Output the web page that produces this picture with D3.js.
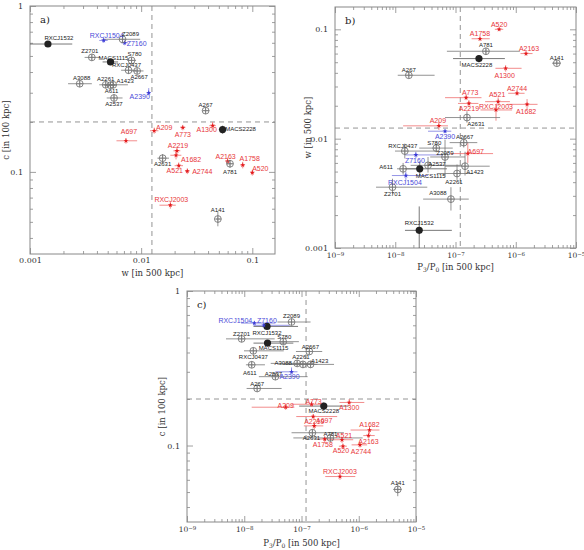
<!DOCTYPE html>
<html>
<head>
<meta charset="utf-8">
<script src="https://cdn.jsdelivr.net/npm/d3@7"></script>
<style>
  body { margin: 0; background: #fff; }
  svg { display: block; }
</style>
</head>
<body>
<svg width="584" height="550"></svg>
<script>
// cluster names and their class
const names = ['RXCJ1532','MACS1115','MACS2228','RXCJ1504','Z7160','A2390',
  'A697','A209','A773','A1300','A2219','A1682','A521','A2744','A2163','A1758','A520','RXCJ2003',
  'Z2089','Z2701','S780','RXCJ0437','A2667','A3088','A2261','A1423','A611','A2537','A267','A2631','A781','A141'];
const groups = ['filled','filled','filled','blue','blue','blue',
  'red','red','red','red','red','red','red','red','red','red','red','red',
  'open','open','open','open','open','open','open','open','open','open','open','open','open','open'];

// c [in 100 kpc]
const cVal = [0.59,0.46,0.18,0.62,0.60,0.30,
  0.154,0.177,0.185,0.19,0.134,0.126,0.109,0.101,0.116,0.11,0.099,0.063,
  0.63,0.49,0.47,0.41,0.406,0.34,0.335,0.335,0.333,0.279,0.234,0.121,0.112,0.052];
const cErr = [[0.57,0.61],[0.44,0.48],[0.17,0.19],[0.6,0.64],[0.58,0.62],[0.29,0.32],
  [0.148,0.16],[0.17,0.185],[0.178,0.192],[0.182,0.2],[0.127,0.142],[0.119,0.134],[0.104,0.114],[0.097,0.105],[0.111,0.122],[0.105,0.115],[0.095,0.103],[0.06,0.066],
  [0.6,0.66],[0.47,0.51],[0.45,0.49],[0.39,0.43],[0.39,0.42],[0.325,0.355],[0.32,0.35],[0.32,0.35],[0.32,0.35],[0.267,0.292],[0.224,0.245],[0.114,0.128],[0.106,0.118],[0.047,0.058]];

// w [in 500 kpc]
const wVal = [0.00145,0.0053,0.054,0.0046,0.0071,0.0117,
  0.0073,0.0131,0.0237,0.044,0.021,0.0206,0.0218,0.026,0.06,0.082,0.1,0.0183,
  0.0068,0.0036,0.0082,0.0077,0.0092,0.0028,0.0048,0.0056,0.0053,0.0057,0.038,0.0156,0.063,0.049];
const wErr = [[0.0009,0.0024],[0.0045,0.0062],[0.05,0.058],[0.0042,0.005],[0.0066,0.0076],[0.0112,0.0122],
  [0.006,0.0092],[0.012,0.0143],[0.0225,0.025],[0.041,0.047],[0.0195,0.0225],[0.0183,0.023],[0.02,0.0238],[0.0248,0.0272],[0.057,0.063],[0.078,0.086],[0.096,0.104],[0.0146,0.0205],
  [0.0045,0.0098],[0.0031,0.0043],[0.0075,0.009],[0.0066,0.009],[0.0083,0.0105],[0.0022,0.0036],[0.0042,0.0058],[0.0046,0.0076],[0.0047,0.006],[0.0049,0.0068],[0.036,0.041],[0.014,0.0178],[0.059,0.067],[0.047,0.052]];

// P3/P0 [in 500 kpc]
const pVal = [2.5e-8,2.55e-8,2.45e-7,1.5e-8,2.2e-8,6.7e-8,
  1.6e-7,5.3e-8,1.5e-7,6.8e-7,1.67e-7,1.54e-6,5.1e-7,1.05e-6,1.48e-6,2.55e-7,5.3e-7,4.7e-7,
  6.7e-8,9e-9,4.8e-8,1.44e-8,1.37e-7,8.4e-8,1.06e-7,1.44e-7,1.35e-8,3.5e-8,1.68e-8,1.55e-7,3.2e-7,4.8e-6];
const pErr = [[1.45e-8,8.7e-8],[1.45e-8,7.2e-8],[9.1e-8,6.6e-7],[8.8e-9,3.5e-8],[1.45e-8,6.2e-8],[3.5e-8,8.5e-8],
  [8.1e-8,4.2e-7],[1.35e-8,7.5e-8],[6.7e-8,2.7e-7],[4.6e-7,1.25e-6],[1.1e-7,2.4e-7],[7.2e-7,2.3e-6],[3.1e-7,8e-7],[7.5e-7,1.4e-6],[1.2e-6,1.9e-6],[1.85e-7,3.7e-7],[4.5e-7,6.2e-7],[2.6e-7,8.7e-7],
  [3.8e-8,1.44e-7],[4.8e-9,3.4e-8],[2.5e-8,9e-8],[9.9e-9,4.9e-8],[8e-8,2.3e-7],[2.9e-8,1.66e-7],[4.9e-8,1.9e-7],[6.7e-8,3.7e-7],[1.07e-8,2.3e-8],[1.8e-8,1.28e-7],[1.1e-8,4.5e-8],[6.7e-8,5.5e-7],[7.2e-8,1.17e-6],[4e-6,5.6e-6]];

// threshold lines
const cCut = 0.2;
const wCut = 0.0125;
const pCut = 1.2e-7;

const data = names.map((name, i) => ({
  name, group: groups[i],
  c: cVal[i], cLo: cErr[i][0], cHi: cErr[i][1],
  w: wVal[i], wLo: wErr[i][0], wHi: wErr[i][1],
  p: pVal[i], pLo: pErr[i][0], pHi: pErr[i][1]
}));

// label offsets (centre of text relative to marker), per panel
const labelsA = {
  RXCJ1532:[11,-6], Z2089:[8,-5], RXCJ1504:[3,-5], Z7160:[12,1], Z2701:[-2,-6], MACS1115:[3,-4],
  S780:[3,-6], RXCJ0437:[-2,-5], A2667:[2,6], A3088:[2,-6], A2261:[0,-6], A1423:[12,-4],
  A611:[1,6], A2537:[0,6], A2390:[-9,4], A267:[0,-6], MACS2228:[18,-1], A1300:[-6,4],
  A209:[10,-3], A773:[0,7], A697:[3,-9], A2219:[1,-5], A1682:[15,4], A2631:[0,6],
  A521:[-4,5], A2744:[15,0], A2163:[-2,-5], A781:[0,8], A1758:[7,-6], A520:[8,-4],
  RXCJ2003:[1,-6], A141:[0,-9]
};
const labelsB = {
  A520:[0,-5], A1758:[0,-5], A781:[0,-6], A2163:[3,-5], MACS2228:[-2,6], A141:[0,-5],
  A1300:[-1,7], A773:[4,-5], A521:[-1,-7], A2744:[0,-5], A2219:[0,5], RXCJ2003:[0,-3],
  A1682:[-1,7], A2631:[9,6], A209:[-1,-5], A2390:[0,5], A2667:[1,-6], A267:[0,-5],
  RXCJ0437:[-2,-5], S780:[-2,-5], Z7160:[-1,6], A611:[-17,-2], MACS1115:[11,7], A2537:[9,-1],
  RXCJ1504:[-1,7], Z2701:[0,7], RXCJ1532:[0,-7], A3088:[-13,-6], A2261:[-3,8], A1423:[10,6],
  A697:[8,-2], Z2089:[0,-4]
};
const labelsC = {
  Z2089:[0,-6], RXCJ1504:[-19,-3], Z7160:[3,-5], RXCJ1532:[0,6], Z2701:[0,-5], S780:[1,-5],
  MACS1115:[6,5], RXCJ0437:[0,6], A2667:[1,-5], A3088:[-14,-1], A2261:[-2,-7], A1423:[9,-3],
  A611:[-2,8], A2537:[-2,-3], A2390:[-2,5], A267:[0,-5], A209:[0,-2], A773:[2,-3],
  A1300:[0,5], MACS2228:[0,5], A697:[11,4], A2219:[0,-4], A2631:[-1,5], A781:[0,-4],
  A521:[2,-4], A1758:[-2,5], A520:[-2,4], A2744:[1,7], A1682:[0,-5], A2163:[0,6],
  RXCJ2003:[0,-5], A141:[0,-7]
};

const colors = {
  red:    { mark: '#e41a1c', text: '#e8363a', err: '#ef6f6f' },
  blue:   { mark: '#3b3bd6', text: '#4a4ad8', err: '#7a7ae0' },
  open:   { mark: '#777',    text: '#222',    err: '#777' },
  filled: { mark: '#222',    text: '#222',    err: '#555' }
};

const svg = d3.select('svg');
const serif = '"DejaVu Serif", serif';
const sans = '"Liberation Sans", Arial, sans-serif';

const logTicks = ([a, b]) => {
  const majors = [], minors = [];
  for (let e = Math.floor(Math.log10(a)); e <= Math.ceil(Math.log10(b)); e++) {
    for (let m = 1; m <= 9; m++) {
      const v = m * Math.pow(10, e);
      if (v < a * 0.999 || v > b * 1.001) continue;
      (m === 1 ? majors : minors).push(v);
    }
  }
  return { majors, minors };
};

const decFormat = d => d >= 1 ? '1' : String(+d.toPrecision(1));

const powFormat = function (d) {
  const t = d3.select(this);
  t.attr('font-size', '7.5px').text('10');
  t.append('tspan').attr('dy', '-0.5em').attr('font-size', '5.5px')
    .text('\u2212' + Math.round(-Math.log10(d)));
};

const axisTitle = (sel, kind) => {
  if (kind === 'p') {
    sel.append('tspan').text('P');
    sel.append('tspan').attr('font-size', '6px').attr('dy', '2').text('3');
    sel.append('tspan').attr('dy', '-2').text('/P');
    sel.append('tspan').attr('font-size', '6px').attr('dy', '2').text('0');
    sel.append('tspan').attr('dy', '-2').text(' [in 500 kpc]');
  } else if (kind === 'w') {
    sel.text('w [in 500 kpc]');
  } else {
    sel.text('c [in 100 kpc]');
  }
};

let clipId = 0;

const panel = (props) => {
  const { box, xDomain, yDomain, xKey, yKey, xCut, yCut, xKind, yKind,
          labels, tag, xPow, xTitleY, yTitleX } = props;
  const [x0, y0, x1, y1] = box;
  const x = d3.scaleLog().domain(xDomain).range([x0, x1]);
  const y = d3.scaleLog().domain(yDomain).range([y1, y0]);
  const g = svg.append('g');

  const xt = logTicks(xDomain), yt = logTicks(yDomain);

  const styleAxis = a => {
    a.select('.domain').remove();
    a.selectAll('line').attr('stroke', '#888').attr('stroke-width', 0.8);
    a.selectAll('text').attr('fill', '#333').attr('font-family', serif).attr('font-size', '8px');
  };

  // bottom
  g.append('g').attr('transform', `translate(0,${y1})`)
    .call(d3.axisBottom(x).tickValues(xt.majors).tickSizeInner(-6).tickSizeOuter(0)
      .tickPadding(xPow ? 5 : 3).tickFormat(xPow ? '' : decFormat))
    .call(styleAxis)
    .call(a => { if (xPow) a.selectAll('text').each(powFormat); });
  g.append('g').attr('transform', `translate(0,${y1})`)
    .call(d3.axisBottom(x).tickValues(xt.minors).tickSizeInner(-3).tickSizeOuter(0).tickFormat(''))
    .call(styleAxis);
  // top
  g.append('g').attr('transform', `translate(0,${y0})`)
    .call(d3.axisTop(x).tickValues(xt.majors).tickSizeInner(-6).tickSizeOuter(0).tickFormat(''))
    .call(styleAxis);
  g.append('g').attr('transform', `translate(0,${y0})`)
    .call(d3.axisTop(x).tickValues(xt.minors).tickSizeInner(-3).tickSizeOuter(0).tickFormat(''))
    .call(styleAxis);
  // left
  g.append('g').attr('transform', `translate(${x0},0)`)
    .call(d3.axisLeft(y).tickValues(yt.majors).tickSizeInner(-6).tickSizeOuter(0)
      .tickPadding(7).tickFormat(decFormat))
    .call(styleAxis);
  g.append('g').attr('transform', `translate(${x0},0)`)
    .call(d3.axisLeft(y).tickValues(yt.minors).tickSizeInner(-3).tickSizeOuter(0).tickFormat(''))
    .call(styleAxis);
  // right
  g.append('g').attr('transform', `translate(${x1},0)`)
    .call(d3.axisRight(y).tickValues(yt.majors).tickSizeInner(-6).tickSizeOuter(0).tickFormat(''))
    .call(styleAxis);
  g.append('g').attr('transform', `translate(${x1},0)`)
    .call(d3.axisRight(y).tickValues(yt.minors).tickSizeInner(-3).tickSizeOuter(0).tickFormat(''))
    .call(styleAxis);

  g.append('rect')
    .attr('x', x0).attr('y', y0).attr('width', x1 - x0).attr('height', y1 - y0)
    .attr('fill', 'none').attr('stroke', '#888').attr('stroke-width', 1);

  // axis titles
  g.append('text')
    .attr('x', (x0 + x1) / 2).attr('y', xTitleY)
    .attr('text-anchor', 'middle').attr('font-family', serif).attr('font-size', '8.5px')
    .attr('fill', '#333')
    .call(axisTitle, xKind);
  g.append('text')
    .attr('transform', `translate(${yTitleX},${(y0 + y1) / 2}) rotate(-90)`)
    .attr('text-anchor', 'middle').attr('font-family', serif).attr('font-size', '8.5px')
    .attr('fill', '#333')
    .call(axisTitle, yKind);

  g.append('text')
    .attr('x', x0 + 10).attr('y', y0 + 17)
    .attr('font-family', serif).attr('font-size', '10px').attr('fill', '#222')
    .text(tag);

  const id = 'clip' + (clipId++);
  g.append('clipPath').attr('id', id)
    .append('rect').attr('x', x0).attr('y', y0).attr('width', x1 - x0).attr('height', y1 - y0);
  const inner = g.append('g').attr('clip-path', `url(#${id})`);

  // dashed threshold lines
  inner.append('line')
    .attr('x1', x(xCut)).attr('x2', x(xCut)).attr('y1', y0).attr('y2', y1)
    .attr('stroke', '#888').attr('stroke-width', 0.9).attr('stroke-dasharray', '5,4');
  inner.append('line')
    .attr('x1', x0).attr('x2', x1).attr('y1', y(yCut)).attr('y2', y(yCut))
    .attr('stroke', '#888').attr('stroke-width', 0.9).attr('stroke-dasharray', '5,4');

  const xv = d => d[xKey], yv = d => d[yKey];

  // error bars
  const eb = inner.append('g').selectAll('g').data(data).enter().append('g')
    .attr('stroke', d => colors[d.group].err).attr('stroke-width', 0.8);
  eb.append('line')
    .attr('x1', d => x(d[xKey + 'Lo'])).attr('x2', d => x(d[xKey + 'Hi']))
    .attr('y1', d => y(yv(d))).attr('y2', d => y(yv(d)));
  eb.append('line')
    .attr('x1', d => x(xv(d))).attr('x2', d => x(xv(d)))
    .attr('y1', d => y(d[yKey + 'Lo'])).attr('y2', d => y(d[yKey + 'Hi']));

  // markers
  const mk = inner.append('g').selectAll('g').data(data).enter().append('g')
    .attr('transform', d => `translate(${x(xv(d))},${y(yv(d))})`);
  mk.filter(d => d.group === 'open').each(function () {
    const m = d3.select(this);
    m.append('circle').attr('r', 3.4).attr('fill', 'none').attr('stroke', '#777').attr('stroke-width', 0.9);
    m.append('path').attr('d', 'M-3.4,0H3.4M0,-3.4V3.4').attr('stroke', '#777').attr('stroke-width', 0.7);
  });
  mk.filter(d => d.group === 'filled')
    .append('circle').attr('r', 3.6).attr('fill', '#222');
  mk.filter(d => d.group === 'red' || d.group === 'blue')
    .append('path')
      .attr('d', d3.symbol(d3.symbolStar).size(8))
      .attr('fill', d => colors[d.group].mark);

  // labels
  g.append('g').selectAll('text').data(data).enter().append('text')
    .attr('x', d => x(xv(d)) + (labels[d.name] || [0, -6])[0])
    .attr('y', d => y(yv(d)) + (labels[d.name] || [0, -6])[1])
    .attr('dy', '0.35em')
    .attr('text-anchor', 'middle')
    .attr('font-family', sans)
    .attr('font-size', d => d.group === 'open' || d.group === 'filled' ? '6px' : '7px')
    .attr('fill', d => colors[d.group].text)
    .text(d => d.name);
};

panel({
  box: [30, 6, 275, 254], xDomain: [0.001, 0.16], yDomain: [0.032, 1],
  xKey: 'w', yKey: 'c', xCut: wCut, yCut: cCut, xKind: 'w', yKind: 'c',
  labels: labelsA, tag: 'a)', xPow: false, xTitleY: 276, yTitleX: 9
});

panel({
  box: [335, 7, 576, 248], xDomain: [1e-9, 1e-5], yDomain: [0.001, 0.16],
  xKey: 'p', yKey: 'w', xCut: pCut, yCut: wCut, xKind: 'p', yKind: 'w',
  labels: labelsB, tag: 'b)', xPow: true, xTitleY: 270, yTitleX: 311
});

panel({
  box: [187, 291, 416, 522], xDomain: [1e-9, 1e-5], yDomain: [0.032, 1],
  xKey: 'p', yKey: 'c', xCut: pCut, yCut: cCut, xKind: 'p', yKind: 'c',
  labels: labelsC, tag: 'c)', xPow: true, xTitleY: 546, yTitleX: 165
});
</script>
</body>
</html>
